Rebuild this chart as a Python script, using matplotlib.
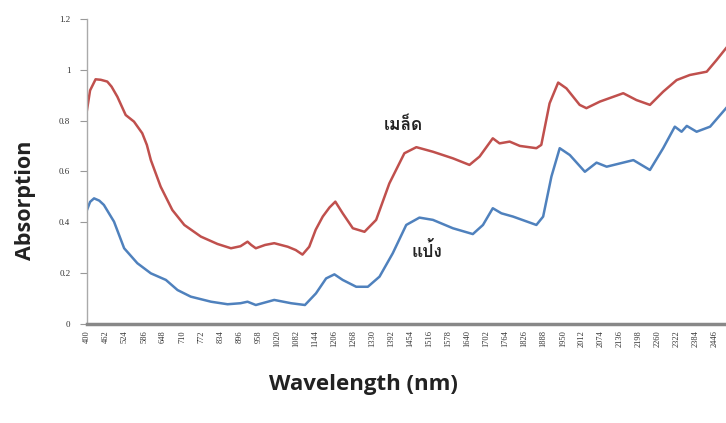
import matplotlib
matplotlib.use("Agg")
import matplotlib.pyplot as plt
from matplotlib import font_manager
from matplotlib.ticker import FuncFormatter

# ---------------- data ----------------
seed_wl = [400, 410, 428, 445, 466, 480, 499, 526, 553, 580, 595, 608, 640, 678, 717,
           771, 825, 869, 900, 923, 935, 950, 980, 1010, 1054, 1080, 1102, 1124,
           1145, 1168, 1190, 1209, 1233, 1266, 1304, 1342, 1385, 1434, 1473, 1527,
           1592, 1646, 1679, 1722, 1744, 1777, 1810, 1864, 1880, 1907, 1935, 1962,
           2005, 2027, 2071, 2147, 2190, 2234, 2277, 2321, 2364, 2419, 2451, 2482]
seed_abs = [0.843, 0.920, 0.964, 0.962, 0.955, 0.935, 0.895, 0.823, 0.797, 0.751,
            0.705, 0.645, 0.540, 0.448, 0.389, 0.343, 0.314, 0.297, 0.305, 0.323,
            0.310, 0.297, 0.310, 0.317, 0.303, 0.290, 0.272, 0.303, 0.370, 0.422,
            0.458, 0.481, 0.435, 0.376, 0.362, 0.409, 0.553, 0.672, 0.696, 0.678,
            0.652, 0.626, 0.659, 0.731, 0.711, 0.718, 0.701, 0.692, 0.705, 0.869,
            0.951, 0.928, 0.863, 0.850, 0.876, 0.909, 0.882, 0.863, 0.915, 0.961,
            0.981, 0.994, 1.040, 1.087]

flour_wl = [400, 410, 423, 440, 455, 488, 521, 564, 608, 657, 695, 738, 804, 858,
            900, 923, 950, 1010, 1065, 1110, 1146, 1179, 1206, 1233, 1277, 1315,
            1353, 1396, 1440, 1483, 1527, 1592, 1657, 1690, 1722, 1750, 1788, 1864,
            1886, 1913, 1940, 1973, 2022, 2060, 2093, 2180, 2234, 2277, 2315, 2337,
            2354, 2386, 2430, 2482]
flour_abs = [0.448, 0.480, 0.494, 0.485, 0.468, 0.402, 0.297, 0.238, 0.198, 0.172,
             0.132, 0.106, 0.086, 0.076, 0.080, 0.086, 0.073, 0.093, 0.080, 0.073,
             0.119, 0.178, 0.194, 0.172, 0.145, 0.145, 0.185, 0.277, 0.389, 0.418,
             0.409, 0.376, 0.353, 0.389, 0.455, 0.435, 0.422, 0.389, 0.422, 0.580,
             0.692, 0.665, 0.599, 0.635, 0.619, 0.645, 0.606, 0.692, 0.777, 0.757,
             0.780, 0.757, 0.777, 0.850]

xtick_labels = list(range(400, 2447, 62))
yticks = [0, 0.2, 0.4, 0.6, 0.8, 1.0, 1.2]
series_names = ["เมล็ด", "แป้ง"]

# ---------------- fonts ----------------
def find_thai_font():
    from matplotlib.ft2font import FT2Font
    preferred = []
    others = []
    for f in font_manager.fontManager.ttflist:
        try:
            ft = FT2Font(f.fname)
            cmap = ft.get_charmap()
        except Exception:
            continue
        if 0x0E21 in cmap and 0x0E07 in cmap:
            w = f.weight
            if (isinstance(w, int) and w >= 600) or "bold" in str(w).lower():
                preferred.append(f.name)
            else:
                others.append(f.name)
    names = preferred + others
    return names[0] if names else None

thai = find_thai_font()
thai_family = ([thai] if thai else []) + ["DejaVu Sans"]

# ---------------- figure ----------------
fig = plt.figure(figsize=(7.26, 4.23), dpi=100)
ax = fig.add_axes([87 / 726, 99.5 / 423, (731.6 - 87) / 726, 304 / 423])

red = "#C0504D"
blue = "#4F81BD"
ax.plot(seed_wl, seed_abs, color=red, lw=1.8, solid_joinstyle="round")
ax.plot(flour_wl, flour_abs, color=blue, lw=1.8, solid_joinstyle="round")

ax.set_xlim(400, 2500)
ax.set_ylim(0, 1.2)
ax.set_yticks(yticks)
ax.yaxis.set_major_formatter(FuncFormatter(lambda v, p: ("%g" % round(v, 1))))
ax.set_xticks(xtick_labels)
ax.set_xticklabels([str(v) for v in xtick_labels], rotation=90, fontsize=6,
                   family="Liberation Serif", color="#333333")
for lab in ax.get_yticklabels():
    lab.set_fontsize(6.5)
    lab.set_family("Liberation Serif")
    lab.set_color("#333333")

ax.tick_params(axis="x", length=0, pad=5)
ax.tick_params(axis="y", length=5, width=0.8, color="#999999", pad=7)

for s in ["top", "right"]:
    ax.spines[s].set_visible(False)
ax.spines["left"].set_color("#AAAAAA")
ax.spines["left"].set_linewidth(1.0)
ax.spines["bottom"].set_color("#888888")
ax.spines["bottom"].set_linewidth(2.5)

fig.text(25 / 726, 1 - 200 / 423, "Absorption", rotation=90, ha="center", va="center",
         fontsize=15.5, fontweight="bold", family="Open Sans", color="#222222")
fig.text(363 / 726, 1 - 384 / 423, "Wavelength (nm)", ha="center", va="center",
         fontsize=16, fontweight="bold", family="Open Sans", color="#222222")

ax.text(1431, 0.784, series_names[0], ha="center", va="center", fontsize=12.5,
        fontweight="bold", family=thai_family, color="#222222")
ax.text(1506, 0.290, series_names[1], ha="center", va="center", fontsize=12.5,
        fontweight="bold", family=thai_family, color="#222222")

fig.savefig("out.png", dpi=100)
